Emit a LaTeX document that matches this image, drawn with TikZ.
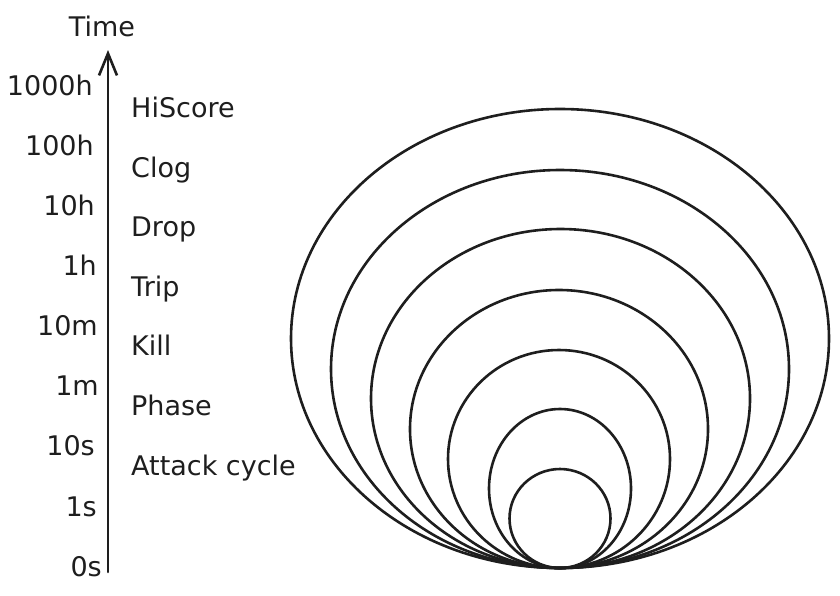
\documentclass[tikz,border=0pt]{standalone}
\usepackage{fontspec}
\setmainfont{DejaVu Sans}
\usetikzlibrary{arrows.meta}
\definecolor{ink}{HTML}{1E1E1E}
\tikzset{
  lbl/.style={inner sep=0pt, text=ink, font=\fontsize{27}{32}\selectfont},
  tlbl/.style={lbl, anchor=base east},
  clbl/.style={lbl, anchor=base west},
  ring/.style={draw=ink, line width=2.6pt},
  axisline/.style={draw=ink, line width=2.6pt, line cap=round, -{Straight Barb[length=22pt, width=18pt, line width=2.6pt]}}
}
\begin{document}
\begin{tikzpicture}[x=1pt, y=-1pt]
\useasboundingbox (0,0) rectangle (840,595);
% axis
\coordinate (axbot) at (108,572);
\coordinate (axtop) at (108,50);
\draw[axisline] (axbot) -- (axtop);
\node[lbl, anchor=base] (time) at (102,36) {Time};
% time labels
\node[tlbl] (t1000h) at (93,95) {1000h};
\node[tlbl] (t100h) at (94,155) {100h};
\node[tlbl] (t10h) at (95,215) {10h};
\node[tlbl] (t1h) at (97,275) {1h};
\node[tlbl] (t10m) at (98,335) {10m};
\node[tlbl] (t1m) at (99,395) {1m};
\node[tlbl] (t10s) at (95,455) {10s};
\node[tlbl] (t1s) at (97,516) {1s};
\node[tlbl] (t0s) at (102,576) {0s};
% cycle labels
\node[clbl] (hiscore) at (131,117) {HiScore};
\node[clbl] (clog) at (131,177) {Clog};
\node[clbl] (drop) at (131,236) {Drop};
\node[clbl] (trip) at (131,296) {Trip};
\node[clbl] (kill) at (131,355) {Kill};
\node[clbl] (phase) at (131,415) {Phase};
\node[clbl] (attack) at (131,475) {Attack cycle};
% nested ellipses tangent at (560,568)
\draw[ring] (560,338.5) ellipse [x radius=269pt, y radius=229.5pt];
\draw[ring] (560,369) ellipse [x radius=229pt, y radius=199pt];
\draw[ring] (560.5,398.5) ellipse [x radius=189.5pt, y radius=169.5pt];
\draw[ring] (559,429) ellipse [x radius=149pt, y radius=139pt];
\draw[ring] (559,459) ellipse [x radius=111pt, y radius=109pt];
\draw[ring] (560,488.5) ellipse [x radius=71pt, y radius=79.5pt];
\draw[ring] (560,518.5) ellipse [x radius=50.5pt, y radius=49.5pt];
\end{tikzpicture}
\end{document}
